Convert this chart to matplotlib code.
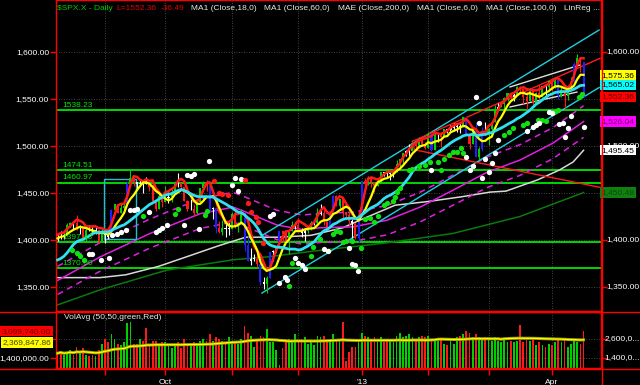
import matplotlib
matplotlib.use("Agg")
import matplotlib.pyplot as plt
from matplotlib.lines import Line2D
from matplotlib.patches import Rectangle
import numpy as np
import pandas as pd

plt.rcParams['font.family'] = ['Liberation Sans', 'DejaVu Sans']

# daily bars, 13 Aug 2012 .. 15 Apr 2013
close = [1404.11, 1403.93, 1405.53, 1415.51, 1418.16, 1418.13, 1413.17, 1413.49, 1402.08, 1411.13, 1410.44, 1409.30, 1410.49, 1399.48, 1406.58,
         1404.94, 1403.44, 1432.12, 1437.92, 1429.08, 1433.56, 1436.56, 1459.99, 1465.77, 1461.19, 1459.32, 1461.05, 1460.26, 1460.15, 1456.89, 1441.59, 1433.32, 1447.15, 1440.67,
         1444.49, 1445.75, 1450.99, 1461.40, 1460.93, 1455.88, 1441.48, 1432.56, 1432.84, 1428.59, 1440.13, 1454.92, 1460.91, 1457.34, 1433.19, 1433.82, 1413.11, 1408.75, 1412.97, 1411.94, 1412.16,
         1427.59, 1414.20, 1417.26, 1428.39, 1394.53, 1377.51, 1379.85, 1380.03, 1374.53, 1355.49, 1353.33, 1359.88, 1386.89, 1387.81, 1391.03, 1409.15, 1406.29, 1398.94, 1409.93, 1415.95, 1416.18,
         1409.46, 1407.05, 1409.28, 1413.94, 1418.07, 1418.55, 1427.84, 1428.48, 1419.45, 1413.58, 1430.36, 1446.79, 1435.81, 1443.69, 1430.15, 1426.66, 1419.83, 1418.10, 1402.43, 1426.19,
         1462.42, 1459.37, 1466.47, 1461.89, 1457.15, 1461.02, 1472.12, 1472.05, 1470.68, 1472.34, 1472.63, 1480.94, 1485.98, 1492.56, 1494.81, 1494.82, 1502.96, 1500.18, 1507.84, 1501.96, 1498.11,
         1513.17, 1495.71, 1511.29, 1512.12, 1509.39, 1517.93, 1517.01, 1519.43, 1520.33, 1521.38, 1519.79, 1530.94, 1511.95, 1502.42, 1515.60, 1487.85, 1496.94, 1515.99, 1514.68,
         1518.20, 1525.20, 1539.79, 1541.46, 1544.26, 1551.18, 1556.22, 1552.48, 1554.52, 1563.23, 1560.70, 1552.10, 1548.34, 1558.71, 1545.80, 1556.89, 1551.69, 1563.77, 1562.85, 1569.19,
         1562.17, 1570.25, 1553.69, 1559.98, 1553.28, 1563.07, 1568.61, 1587.73, 1593.37, 1588.85, 1552.36]
high = [1405.9, 1410.0, 1407.7, 1417.9, 1418.7, 1418.9, 1426.7, 1416.1, 1413.5, 1413.5, 1416.2, 1413.6, 1413.9, 1410.5, 1413.1,
        1409.3, 1408.8, 1432.8, 1438.7, 1438.7, 1437.8, 1439.2, 1463.2, 1474.5, 1465.8, 1461.5, 1465.1, 1461.1, 1467.1, 1460.4, 1463.2, 1441.6, 1448.6, 1447.2,
        1457.1, 1451.5, 1454.3, 1463.1, 1471.0, 1461.0, 1455.9, 1442.3, 1443.9, 1438.4, 1441.3, 1455.5, 1462.8, 1464.0, 1457.4, 1435.5, 1433.9, 1420.6, 1421.0, 1417.1, 1418.8,
        1429.4, 1434.3, 1419.5, 1433.4, 1428.4, 1404.0, 1391.4, 1384.9, 1388.8, 1380.1, 1360.6, 1362.0, 1386.9, 1389.8, 1391.3, 1409.2, 1409.2, 1409.0, 1410.0, 1419.7, 1418.9,
        1423.7, 1413.1, 1413.1, 1414.9, 1420.3, 1421.6, 1434.3, 1438.6, 1431.4, 1419.5, 1430.7, 1448.0, 1447.8, 1443.7, 1443.7, 1430.2, 1429.4, 1422.8, 1418.1, 1426.7,
        1462.5, 1465.5, 1467.9, 1466.5, 1461.9, 1464.7, 1472.3, 1472.8, 1472.1, 1473.0, 1473.0, 1485.2, 1486.0, 1492.6, 1496.1, 1502.3, 1503.3, 1503.2, 1509.9, 1509.9, 1504.2,
        1514.4, 1513.2, 1514.0, 1512.5, 1512.2, 1518.3, 1518.3, 1522.3, 1524.7, 1523.1, 1524.2, 1531.0, 1531.0, 1512.0, 1515.6, 1525.8, 1498.9, 1520.1, 1525.3,
        1519.0, 1525.3, 1543.5, 1545.3, 1545.8, 1552.5, 1556.3, 1556.8, 1556.4, 1563.6, 1563.6, 1560.7, 1557.3, 1561.6, 1558.8, 1557.0, 1564.9, 1563.9, 1564.0, 1570.6,
        1570.6, 1573.7, 1571.5, 1562.3, 1560.0, 1563.1, 1573.9, 1589.1, 1597.4, 1593.4, 1589.1]
low = [1398.8, 1400.6, 1401.5, 1404.5, 1414.1, 1412.1, 1410.9, 1406.8, 1400.5, 1398.0, 1409.1, 1405.6, 1406.8, 1397.0, 1398.0,
       1396.6, 1401.3, 1403.4, 1429.4, 1428.9, 1428.5, 1432.9, 1435.0, 1459.0, 1457.5, 1455.0, 1457.9, 1449.6, 1459.5, 1452.1, 1441.0, 1430.5, 1433.0, 1435.2,
       1440.5, 1439.0, 1440.9, 1450.9, 1456.9, 1453.1, 1441.2, 1430.6, 1431.9, 1425.5, 1427.2, 1440.1, 1453.3, 1452.6, 1429.9, 1422.6, 1407.6, 1407.1, 1405.1, 1403.3, 1405.0,
       1412.1, 1412.9, 1408.1, 1417.2, 1388.1, 1377.5, 1373.0, 1377.2, 1370.8, 1352.5, 1348.1, 1343.4, 1359.8, 1377.9, 1386.4, 1391.0, 1398.0, 1397.7, 1385.4, 1409.9, 1411.6,
       1408.5, 1403.7, 1398.6, 1407.1, 1410.9, 1415.6, 1418.5, 1426.8, 1416.0, 1411.9, 1413.5, 1430.3, 1435.8, 1432.8, 1422.6, 1424.7, 1416.4, 1401.8, 1401.6, 1398.1,
       1426.1, 1455.5, 1458.6, 1456.6, 1451.6, 1457.1, 1461.0, 1467.6, 1466.4, 1463.8, 1467.1, 1472.6, 1475.1, 1481.2, 1489.9, 1489.5, 1494.8, 1496.3, 1498.0, 1500.1, 1496.8,
       1498.1, 1495.0, 1495.7, 1504.7, 1498.5, 1509.3, 1513.6, 1515.6, 1515.9, 1514.4, 1514.1, 1519.7, 1511.4, 1497.3, 1502.4, 1487.8, 1485.0, 1494.9, 1514.5,
       1501.1, 1512.3, 1525.2, 1538.1, 1541.4, 1539.6, 1547.4, 1548.2, 1548.3, 1554.5, 1555.7, 1545.1, 1538.6, 1548.3, 1543.8, 1545.8, 1546.2, 1551.6, 1551.5, 1561.1,
       1558.5, 1562.1, 1549.8, 1552.4, 1539.5, 1548.6, 1560.9, 1568.6, 1586.5, 1579.0, 1552.3]
# volume, millions
volume = [1.7, 1.8, 1.6, 1.8, 1.9, 1.6, 2.1, 1.7, 2.0, 1.6, 1.5, 1.6, 1.5, 1.9, 2.3,
          2.6, 2.4, 2.9, 2.6, 2.3, 2.2, 2.4, 3.6, 3.7, 2.3, 2.3, 2.6, 2.5, 3.3, 2.2, 2.5, 2.5, 2.3, 2.4,
          2.4, 2.2, 2.0, 2.2, 2.4, 2.0, 2.6, 2.3, 2.2, 2.4, 2.3, 2.5, 2.6, 2.5, 2.9, 2.5, 2.7, 2.6, 2.5, 2.4, 2.7,
          2.5, 2.5, 2.3, 2.6, 3.4, 3.0, 2.8, 2.1, 2.6, 2.8, 2.7, 3.2, 2.4, 2.4, 1.9, 0.95, 2.0, 2.6, 2.6, 2.4, 2.9,
          2.5, 2.6, 2.7, 2.3, 2.4, 2.2, 2.8, 2.7, 2.8, 2.5, 2.6, 2.9, 2.6, 2.5, 3.7, 1.2, 1.8, 2.1, 2.1, 2.4,
          3.0, 2.8, 2.7, 2.5, 2.7, 2.6, 2.7, 2.4, 2.5, 2.6, 2.4, 2.8, 3.0, 2.7, 2.8, 2.9, 2.7, 2.6, 2.7, 2.8, 2.7,
          2.8, 2.6, 2.6, 2.5, 2.6, 2.3, 2.2, 2.5, 2.3, 2.7, 2.8, 2.9, 3.1, 3.0, 2.7, 2.9, 2.7, 2.6, 2.7,
          2.6, 2.5, 2.7, 2.5, 2.4, 2.6, 2.4, 2.5, 2.4, 2.5, 3.5, 2.4, 2.7, 2.5, 2.6, 2.2, 2.4, 2.2, 2.1, 2.3,
          2.2, 2.4, 2.6, 2.4, 2.6, 2.1, 2.3, 2.5, 2.4, 2.3, 3.1]

# closes / highs before the first bar (warm-up for the fast averages)
pre_close = [1376.51, 1362.66, 1350.52, 1338.31, 1337.89, 1360.02, 1385.97, 1385.30, 1379.32,
             1375.32, 1365.00, 1390.99, 1394.23, 1401.35, 1402.22, 1402.80, 1405.87]
pre_high = [1405.1, 1405.9]

# slow averages (bar index, value)
ma60_x = [0, 13.4, 29.2, 45, 55.4, 58.5, 69.2, 77.4, 82.8, 93.2, 103.9, 114.4, 124.8, 135.5, 145.9, 156.3, 166]
ma60_y = [1357, 1382, 1407, 1428, 1435, 1431, 1416, 1411, 1413, 1414, 1421, 1435, 1453, 1472, 1485, 1503, 1526]
ma100_x = [0, 13.4, 21.5, 31.9, 42.3, 50.9, 59.4, 70, 80, 90, 96, 106.5, 117, 127.5, 136.6, 141.5, 151.5, 158.4, 162.7, 166]
ma100_y = [1360, 1360, 1363, 1372, 1384, 1394, 1403, 1403, 1405, 1413, 1422, 1437, 1441, 1446, 1451, 1452, 1464, 1474.5, 1483, 1495.45]
ma200_x = [0, 13.4, 34.5, 55.4, 66, 82.8, 103.9, 124.8, 145.9, 166]
ma200_y = [1331, 1347, 1368, 1379, 1382, 1389, 1397, 1407, 1425, 1450.48]

# dots (bar index, price)
green_x = [4.7, 6, 7.2, 8.4, 27, 37, 38, 46.5, 47, 73, 74, 80, 80.6, 82.7, 87, 88, 89, 90, 91, 93, 95.8, 97, 98.5,
           100, 101, 103, 104, 105.8, 106.4, 107, 108, 111, 112, 114, 115.8, 117.4, 120, 121, 122, 123.5, 124.8, 126, 127.4, 128,
           141, 142.6, 143.7, 146.8, 148, 151.6, 153, 154, 156.8, 158, 164.7, 165.5]
green_y = [1389, 1386, 1383, 1379, 1426, 1428, 1433, 1427, 1431, 1351, 1376, 1383, 1393, 1401, 1406, 1410, 1408, 1398, 1399, 1399, 1391, 1422, 1423,
           1419.5, 1426, 1437, 1439, 1442, 1446, 1451, 1455, 1474.5, 1476, 1479, 1480, 1483, 1483, 1475, 1486, 1490, 1494, 1494, 1497.5, 1493,
           1512, 1515, 1519, 1522, 1525, 1528, 1528, 1527, 1536.5, 1538, 1552.5, 1555]
white_x = [10, 11, 13.6, 16.2, 17.3, 18.9, 20, 21.5, 23, 24, 25, 28.9, 31, 32, 33, 34.6, 40, 44.6, 41, 42, 43, 47.8,
           55, 56, 57, 58, 67, 68, 70, 71.7, 72.5, 75, 76, 77, 78, 84, 85.3, 92, 93, 94, 94.8,
           118, 129, 130, 131, 132, 133, 134, 135, 136, 137, 138, 139, 148, 150, 151, 152, 155, 156, 158.4, 159.5, 160, 161, 162, 166]
white_y = [1385, 1385, 1379, 1381, 1405, 1406, 1409, 1411, 1432, 1432, 1433, 1430, 1409, 1411, 1413, 1416, 1416, 1412, 1469, 1468, 1470, 1484,
           1458, 1466, 1452, 1465, 1426, 1428, 1354, 1361, 1358, 1381, 1376, 1373, 1369, 1390, 1388, 1392, 1374, 1373, 1367,
           1474, 1488, 1474.5, 1479, 1552.5, 1525, 1466, 1486, 1472, 1482, 1493, 1506, 1516, 1520.5, 1522, 1524, 1536.5, 1535, 1523, 1524, 1510, 1519, 1532, 1520.5]
red_x = [49.5, 51, 52, 53.8, 59, 60, 61, 62.7, 63.3, 64.8]
red_y = [1463, 1450, 1449, 1448, 1464, 1439, 1430, 1425, 1419.5, 1396.5]

# horizontal levels and drawn trend lines
levels = [1538.23, 1474.51, 1460.97, 1397.43, 1370.00]
channel_x = [64.5, 170.9]
channel_up = [1404.8, 1623.4]
channel_lo = [1343.6, 1562.2]
red_up_x, red_up_y = [112, 171.2], [1505.0, 1593.3]
red_dn_x, red_dn_y = [112.6, 171.2], [1496.0, 1456.0]
white_a_x, white_a_y = [142.8, 164.9], [1562.8, 1586.2]
white_b_x, white_b_y = [142.8, 163.9], [1541.5, 1557.4]
box_x, box_y = [14.7, 24.8], [1401.0, 1465.0]

month_idx = [15, 34, 55, 76, 96, 117, 136, 156]
month_lbl = ['', 'Oct', '', '', "'13", '', '', 'Apr']
price_ticks = [1350, 1400, 1450, 1500, 1550, 1600]
right_labels = [1350, 1400, 1500, 1600]   # the others sit under the value tags

W, H = 640, 385
BG = 'black'
FS = 6.0

n = len(close)
x = np.arange(n)
c = np.array(close)
o = np.array([pre_close[-1]] + close[:-1])
chg = c - o

cs = pd.Series(pre_close + close)
ma6 = cs.rolling(6).mean().values[len(pre_close):]
ma18 = cs.rolling(18).mean().values[len(pre_close):]
hs = pd.Series(pre_high + high)
ma3h = hs.rolling(3).mean().values[len(pre_high):]

vol = np.array(volume) * 1e6
vol_avg = pd.Series(vol).rolling(50, min_periods=1).mean().values


def bar_color(d):
    if abs(d) >= 16:
        return '#1e1eff'
    if abs(d) < 2.5:
        return 'white'
    return '#00d000' if d > 0 else '#ff1a1a'


colors = [bar_color(d) for d in chg]

fig = plt.figure(figsize=(W / 100, H / 100), dpi=100, facecolor=BG)
ax = fig.add_axes([56 / W, 1 - 311 / H, 545 / W, 311 / H], facecolor=BG)
axv = fig.add_axes([56 / W, 1 - 368 / H, 545 / W, 56 / H], facecolor=BG, sharex=ax)

for a in (ax, axv):
    for s in a.spines.values():
        s.set_color('red')
        s.set_linewidth(1)
    a.tick_params(colors='red', labelcolor='white', labelsize=FS, length=4, width=1)
    for m in month_idx:
        a.axvline(m, color='#5a5a5a', lw=0.6, ls=(0, (1, 2)), zorder=0)

ax.set_xlim(-0.5, 171.5)
ax.set_ylim(1324.5, 1655.3)
for p in price_ticks:
    ax.axhline(p, color='#5a5a5a', lw=0.6, ls=(0, (1, 2)), zorder=0)
ax.set_yticks(price_ticks)
ax.set_yticklabels([f'{p:,.2f}' for p in price_ticks])
ax.tick_params(axis='y', left=True, right=True, labelleft=True, labelright=False, pad=1)
ax.tick_params(axis='x', bottom=False, labelbottom=False)
for p in right_labels:
    ax.text(1.009, p, f'{p:,.2f}', transform=ax.get_yaxis_transform(), color='white', fontsize=FS,
            va='center', ha='left', clip_on=False)

# horizontal levels
for lv in levels:
    ax.axhline(lv, color='#00e600', lw=1.3, zorder=1)
    ax.text(1.5, lv + 1.5, f'{lv:.2f}', color='#00e600', fontsize=FS, va='bottom', ha='left', zorder=6)

# slow averages and envelope
ma60_i = np.interp(x, ma60_x, ma60_y)
ax.plot(ma200_x, ma200_y, color='#0a7a0a', lw=1.1, zorder=2)
ax.plot(ma100_x, ma100_y, color='#d8d8d8', lw=1.1, zorder=2)
ax.plot(ma60_x, ma60_y, color='#e020e0', lw=1.1, zorder=2)
ax.plot(x, ma60_i * 1.011, color='#e020e0', lw=1.1, ls=(0, (4, 3)), zorder=2)
ax.plot(x, ma60_i * 0.989, color='#e020e0', lw=1.1, ls=(0, (4, 3)), zorder=2)

# trend lines and box
ax.plot(channel_x, channel_up, color='#20d0e0', lw=1, zorder=2)
ax.plot(channel_x, channel_lo, color='#20d0e0', lw=1, zorder=2)
ax.plot(red_up_x, red_up_y, color='#ff1a1a', lw=1, zorder=2)
ax.plot(red_dn_x, red_dn_y, color='#ff1a1a', lw=1, zorder=2)
ax.plot([red_up_x[0], red_dn_x[0]], [red_up_y[0], red_dn_y[0]], color='#ff1a1a', lw=1, zorder=2)
ax.plot(white_a_x, white_a_y, color='#e0e0e0', lw=1, zorder=2)
ax.plot(white_b_x, white_b_y, color='#e0e0e0', lw=1, zorder=2)
ax.add_patch(Rectangle((box_x[0], box_y[0]), box_x[1] - box_x[0], box_y[1] - box_y[0],
                       fill=False, ec='#20c0d0', lw=1, zorder=2))

# candles
ax.vlines(x, low, high, colors=colors, lw=0.8, zorder=3)
body = np.where(np.abs(chg) < 0.6, 0.6 * np.sign(chg + 1e-9), chg)
ax.bar(x, body, bottom=o, width=0.65, color=colors, lw=0, zorder=3)

# fast averages
ax.plot(x, ma3h, color='#ff1a1a', lw=1.8, zorder=4)
ax.plot(x, ma6, color='#ffff00', lw=1.6, zorder=4)
ax.plot(x, ma18, color='#30e0f0', lw=2.0, zorder=4)

# dots
ax.plot(green_x, green_y, 'o', color='#10e010', ms=3.8, mec='none', zorder=5)
ax.plot(white_x, white_y, 'o', color='white', ms=3.8, mec='none', zorder=5)
ax.plot(red_x, red_y, 'o', color='#ff1a1a', ms=3.8, mec='none', zorder=5)

# last-value tags on the right axis
tags = [(1575.36, '#ffff00', 'black'), (1565.02, '#00ffff', 'black'), (1552.36, '#ff0000', '#600000'),
        (1526.04, '#ff00ff', '#700070'), (1495.45, 'white', 'black'), (1450.48, '#108010', '#0a4a0a')]
for val, fc, tc in tags:
    ax.text(1.001, val, f'{val:,.2f}', transform=ax.get_yaxis_transform(), color=tc, fontsize=FS,
            va='center', ha='left', clip_on=False, zorder=10,
            bbox=dict(boxstyle='square,pad=0.2', fc=fc, ec='none'))

# header
fig.text(57 / W, 1 - 8 / H, '$SPX.X - Daily', color='#00c800', fontsize=FS, va='center')
fig.text(116 / W, 1 - 8 / H, 'L=1552.36', color='#e00000', fontsize=FS, va='center')
fig.text(161 / W, 1 - 8 / H, '-36.49', color='#e00000', fontsize=FS, va='center')
head = [(191, 'MA1 (Close,18,0)'), (264, 'MA1 (Close,60,0)'), (338, 'MAE (Close,200,0)'),
        (417, 'MA1 (Close,6,0)'), (486, 'MA1 (Close,100,0)'), (564, 'LinReg ...')]
for px, s in head:
    fig.text(px / W, 1 - 8 / H, s, color='#e8e8e8', fontsize=FS, va='center')

# volume panel
vcol = ['#00d000' if d > 0 else '#ff1a1a' for d in chg]
axv.bar(x, vol, width=0.55, color=vcol, lw=0, zorder=2)
axv.plot(x, vol_avg, color='#a0a000', lw=2.2, zorder=3)
axv.plot(x, vol_avg, color='#ffff00', lw=0.9, zorder=3)
axv.set_ylim(0.768e6, 4.305e6)
for v in (1.4e6, 2.6e6):
    axv.axhline(v, color='#5a5a5a', lw=0.6, ls=(0, (1, 2)), zorder=0)
axv.set_yticks([1.4e6, 2.6e6])
axv.set_yticklabels(['1,400,000.00', '2,600,000.00'])
axv.tick_params(axis='y', left=True, right=True, labelleft=True, labelright=False, pad=1)
axv.get_yticklabels()[1].set_visible(False)
for v, s in ((1.4e6, '1,400,0...'), (2.6e6, '2,600,0...')):
    axv.text(1.006, v, s, transform=axv.get_yaxis_transform(), color='white', fontsize=FS,
             va='center', ha='left', clip_on=False)
vtags = [(3099740.0, '#ff0000', '#600000'), (2369847.86, '#ffff00', '#404000')]
for val, fc, tc in vtags:
    axv.text(-0.009, val, f'{val:,.2f}', transform=axv.get_yaxis_transform(), color=tc, fontsize=FS,
             va='center', ha='right', clip_on=False, zorder=10,
             bbox=dict(boxstyle='square,pad=0.2', fc=fc, ec='none'))
axv.text(2, 3.95e6, 'VolAvg (50,50,green,Red)', color='#e8e8e8', fontsize=FS, va='center', ha='left')

axv.set_xticks(month_idx)
axv.set_xticklabels(month_lbl)
axv.tick_params(axis='x', length=5, pad=3)

# panel separators
for yp in (311.5, 368.5):
    fig.add_artist(Line2D([0, 1], [1 - yp / H, 1 - yp / H], color='red', lw=1))
fig.add_artist(Line2D([601.5 / W, 601.5 / W], [0, 1], color='red', lw=1))

fig.savefig('out.png', dpi=100, facecolor=BG)
